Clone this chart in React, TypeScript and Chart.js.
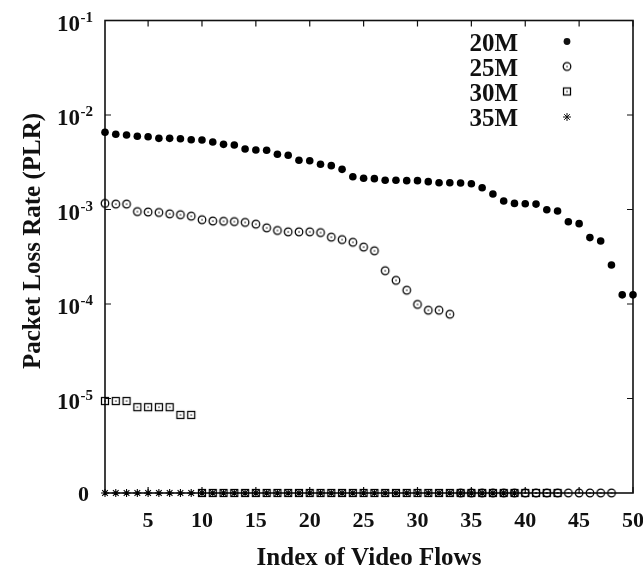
import React, { useEffect, useRef } from 'react';
import { Chart, registerables } from 'chart.js';

Chart.register(...registerables);

// ---- data ----
const flowIndex = [
  1, 2, 3, 4, 5, 6, 7, 8, 9, 10, 11, 12, 13, 14, 15, 16, 17, 18, 19, 20, 21, 22, 23, 24, 25,
  26, 27, 28, 29, 30, 31, 32, 33, 34, 35, 36, 37, 38, 39, 40, 41, 42, 43, 44, 45, 46, 47, 48, 49, 50,
];

const plr20M = [
  6.56e-3, 6.25e-3, 6.14e-3, 5.95e-3, 5.89e-3, 5.66e-3, 5.66e-3, 5.61e-3, 5.48e-3, 5.44e-3,
  5.18e-3, 4.89e-3, 4.82e-3, 4.37e-3, 4.26e-3, 4.23e-3, 3.84e-3, 3.75e-3, 3.32e-3, 3.28e-3,
  3.01e-3, 2.91e-3, 2.66e-3, 2.22e-3, 2.14e-3, 2.12e-3, 2.04e-3, 2.04e-3, 2.02e-3, 2.02e-3,
  1.97e-3, 1.92e-3, 1.92e-3, 1.91e-3, 1.87e-3, 1.7e-3, 1.46e-3, 1.23e-3, 1.16e-3, 1.15e-3,
  1.14e-3, 9.95e-4, 9.64e-4, 7.43e-4, 7.08e-4, 5.04e-4, 4.65e-4, 2.59e-4, 1.25e-4, 1.25e-4,
];

const plr25M = [
  1.16e-3, 1.14e-3, 1.14e-3, 9.5e-4, 9.4e-4, 9.3e-4, 9.0e-4, 8.8e-4, 8.5e-4, 7.8e-4,
  7.55e-4, 7.5e-4, 7.45e-4, 7.3e-4, 7.0e-4, 6.4e-4, 6.0e-4, 5.8e-4, 5.8e-4, 5.8e-4,
  5.7e-4, 5.1e-4, 4.8e-4, 4.5e-4, 4.0e-4, 3.66e-4, 2.25e-4, 1.78e-4, 1.4e-4, 9.9e-5,
  8.6e-5, 8.6e-5, 7.8e-5, 0, 0, 0, 0, 0, 0, 0,
  0, 0, 0, 0, 0, 0, 0, 0,
];

const plr30M = [
  9.4e-6, 9.4e-6, 9.4e-6, 8.1e-6, 8.1e-6, 8.1e-6, 8.1e-6, 6.7e-6, 6.7e-6, 0,
  0, 0, 0, 0, 0, 0, 0, 0, 0, 0,
  0, 0, 0, 0, 0, 0, 0, 0, 0, 0,
  0, 0, 0, 0, 0, 0, 0, 0, 0, 0,
  0, 0, 0,
];

const plr35M = [
  0, 0, 0, 0, 0, 0, 0, 0, 0, 0,
  0, 0, 0, 0, 0, 0, 0, 0, 0, 0,
  0, 0, 0, 0, 0, 0, 0, 0, 0, 0,
  0, 0, 0, 0, 0, 0, 0, 0, 0,
];

const seriesLabels = ['20M', '25M', '30M', '35M'];
const xTickValues = [5, 10, 15, 20, 25, 30, 35, 40, 45, 50];
const yTickExponents = [-1, -2, -3, -4, -5];
const zeroLevel = -6; // where "0" is drawn on the log axis
const xTitle = 'Index of Video Flows';
const yTitle = 'Packet Loss Rate (PLR)';

const FONT = '"Liberation Serif", "Times New Roman", serif';

const toLog = (v: number) => (v > 0 ? Math.log10(v) : zeroLevel);
const toPoints = (vals: number[]) => vals.map((v, i) => ({ x: flowIndex[i], y: toLog(v) }));

function makeMarker(kind: 'circleDot' | 'squareDot'): HTMLCanvasElement {
  const c = document.createElement('canvas');
  c.width = 12;
  c.height = 12;
  const g = c.getContext('2d')!;
  g.strokeStyle = '#000';
  g.fillStyle = '#000';
  g.lineWidth = 1.25;
  if (kind === 'circleDot') {
    g.beginPath();
    g.arc(6, 6, 3.8, 0, Math.PI * 2);
    g.stroke();
  } else {
    g.strokeRect(2.5, 2.5, 7, 7);
  }
  g.fillRect(5.4, 5.4, 1.3, 1.3);
  return c;
}

function drawStar(ctx: CanvasRenderingContext2D, x: number, y: number, r: number) {
  ctx.beginPath();
  ctx.moveTo(x - r, y);
  ctx.lineTo(x + r, y);
  ctx.moveTo(x, y - r);
  ctx.lineTo(x, y + r);
  const d = r * Math.SQRT1_2;
  ctx.moveTo(x - d, y - d);
  ctx.lineTo(x + d, y + d);
  ctx.moveTo(x - d, y + d);
  ctx.lineTo(x + d, y - d);
  ctx.stroke();
}

export default function App() {
  const canvasRef = useRef<HTMLCanvasElement | null>(null);

  useEffect(() => {
    const canvas = canvasRef.current;
    if (!canvas) return;
    const circleDot = makeMarker('circleDot');
    const squareDot = makeMarker('squareDot');

    const decor = {
      id: 'decor',
      beforeDatasetsDraw(chart: any) {
        const { ctx, chartArea: a, scales } = chart;
        const xs = scales.x;
        const ys = scales.y;
        ctx.save();
        ctx.strokeStyle = '#111';
        ctx.lineWidth = 1.6;
        ctx.strokeRect(a.left, a.top, a.right - a.left, a.bottom - a.top);
        ctx.lineWidth = 1.2;
        ctx.beginPath();
        const tl = 6;
        for (const e of yTickExponents) {
          const y = ys.getPixelForValue(e);
          ctx.moveTo(a.left, y);
          ctx.lineTo(a.left + tl, y);
          ctx.moveTo(a.right, y);
          ctx.lineTo(a.right - tl, y);
        }
        for (const v of xTickValues) {
          const x = xs.getPixelForValue(v);
          ctx.moveTo(x, a.bottom);
          ctx.lineTo(x, a.bottom - tl);
          ctx.moveTo(x, a.top);
          ctx.lineTo(x, a.top + tl);
        }
        ctx.stroke();
        ctx.restore();
      },
      afterDraw(chart: any) {
        const { ctx, chartArea: a, scales } = chart;
        const xs = scales.x;
        const ys = scales.y;
        ctx.save();
        ctx.fillStyle = '#111';
        // y tick labels
        for (const e of yTickExponents) {
          const y = ys.getPixelForValue(e);
          ctx.font = `bold 23px ${FONT}`;
          ctx.textAlign = 'right';
          ctx.textBaseline = 'alphabetic';
          ctx.fillText('10', 80, y + 10);
          ctx.font = `bold 15px ${FONT}`;
          ctx.textAlign = 'left';
          ctx.fillText(String(e), 80.5, y + 1);
        }
        ctx.font = `bold 22px ${FONT}`;
        ctx.textAlign = 'right';
        ctx.fillText('0', 89, ys.getPixelForValue(zeroLevel) + 7.5);
        // x tick labels
        ctx.textAlign = 'center';
        for (const v of xTickValues) {
          ctx.fillText(String(v), xs.getPixelForValue(v), a.bottom + 34);
        }
        // axis titles
        ctx.font = `bold 25px ${FONT}`;
        ctx.fillText(xTitle, (a.left + a.right) / 2, 565);
        ctx.save();
        ctx.translate(34, 241);
        ctx.rotate(-Math.PI / 2);
        ctx.textBaseline = 'middle';
        ctx.fillText(yTitle, 0, 0);
        ctx.restore();
        // legend
        const rows = [41.5, 66.5, 91.5, 117];
        const mx = 567;
        ctx.font = `bold 25px ${FONT}`;
        ctx.textAlign = 'right';
        ctx.textBaseline = 'alphabetic';
        seriesLabels.forEach((lab, i) => {
          ctx.fillText(lab, 518, rows[i] + 9);
        });
        ctx.beginPath();
        ctx.arc(mx, rows[0], 3.4, 0, Math.PI * 2);
        ctx.fill();
        ctx.drawImage(circleDot, mx - 6, rows[1] - 6);
        ctx.drawImage(squareDot, mx - 6, rows[2] - 6);
        ctx.strokeStyle = '#111';
        ctx.lineWidth = 1;
        drawStar(ctx, mx, rows[3], 4);
        ctx.restore();
      },
    };

    const chart = new Chart(canvas, {
      type: 'scatter',
      data: {
        datasets: [
          {
            label: seriesLabels[0],
            data: toPoints(plr20M),
            pointStyle: 'circle',
            pointRadius: 3.8,
            pointBackgroundColor: '#000',
            pointBorderColor: '#000',
            pointBorderWidth: 0,
            clip: false,
            order: 3,
          },
          {
            label: seriesLabels[1],
            data: toPoints(plr25M),
            pointStyle: circleDot,
            pointRadius: 4,
            clip: false,
            order: 2,
          },
          {
            label: seriesLabels[2],
            data: toPoints(plr30M),
            pointStyle: squareDot,
            pointRadius: 4,
            clip: false,
            order: 1,
          },
          {
            label: seriesLabels[3],
            data: toPoints(plr35M),
            pointStyle: 'star',
            pointRadius: 4,
            pointBorderColor: '#000',
            pointBackgroundColor: '#000',
            pointBorderWidth: 1.1,
            clip: false,
            order: 0,
          },
        ] as any,
      },
      options: {
        animation: false,
        responsive: false,
        events: [],
        layout: { padding: { top: 20.5, right: 10, left: 0, bottom: 0 } },
        plugins: { legend: { display: false }, tooltip: { enabled: false } },
        scales: {
          x: {
            type: 'linear',
            min: 1,
            max: 50,
            grid: { display: false },
            border: { display: false },
            ticks: { display: false },
            afterFit: (s: any) => {
              s.height = 75;
            },
          },
          y: {
            type: 'linear',
            min: zeroLevel,
            max: -1,
            grid: { display: false },
            border: { display: false },
            ticks: { display: false },
            afterFit: (s: any) => {
              s.width = 105;
            },
          },
        },
      } as any,
      plugins: [decor],
    });

    return () => chart.destroy();
  }, []);

  return (
    <div style={{ position: 'fixed', left: 0, top: 0, width: 643, height: 568, background: '#fff' }}>
      <canvas ref={canvasRef} width={643} height={568} style={{ display: 'block' }} />
    </div>
  );
}
